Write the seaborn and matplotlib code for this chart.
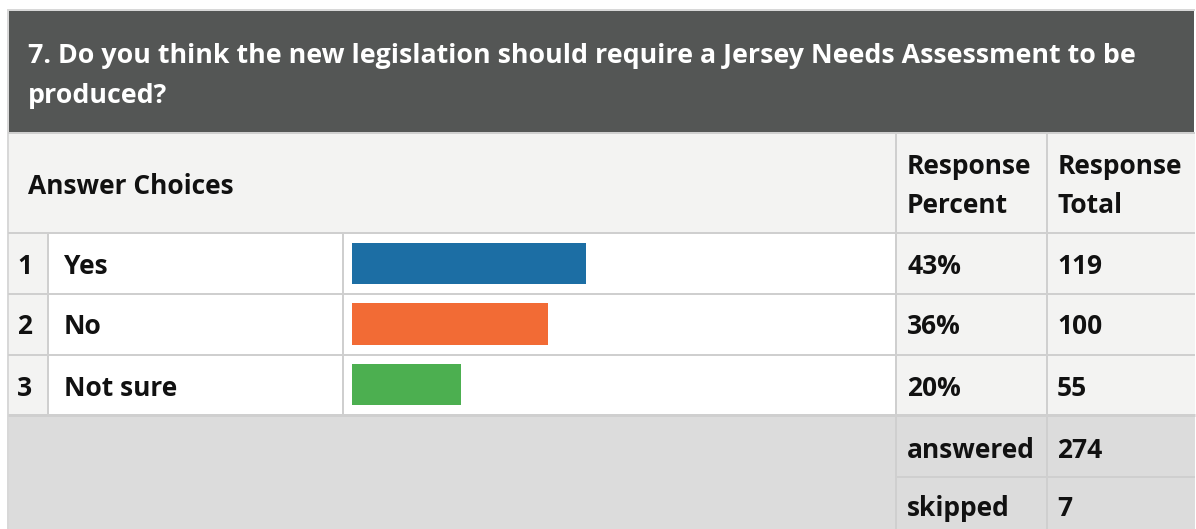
import matplotlib
matplotlib.use("Agg")
import matplotlib.pyplot as plt
from matplotlib.patches import Rectangle
import seaborn as sns
import pandas as pd

sns.set_theme(style="white")
plt.rcParams['font.family'] = ['Open Sans', 'DejaVu Sans']

# ---- data ----
title = "7. Do you think the new legislation should require a Jersey Needs Assessment to be\nproduced?"
numbers = ["1", "2", "3"]
choices = ["Yes", "No", "Not sure"]
percents = [43, 36, 20]
totals = [119, 100, 55]
colors = ["#1c6ea4", "#f26b35", "#4caf50"]
answered = 274
skipped = 7

W, H = 1196, 529
fig = plt.figure(figsize=(W / 100, H / 100), dpi=100)
bg = fig.add_axes([0, 0, 1, 1])
bg.set_xlim(0, W)
bg.set_ylim(H, 0)
bg.axis("off")

LINE = "#cfcfcf"
LW = 2 * 72 / 100

def rect(x0, y0, x1, y1, c):
    bg.add_patch(Rectangle((x0, y0), x1 - x0, y1 - y0, facecolor=c, edgecolor="none", zorder=0))

def hline(y, x0, x1, lw=LW, c=LINE):
    bg.plot([x0, x1], [y, y], color=c, lw=lw, solid_capstyle="butt", zorder=2)

def vline(x, y0, y1, lw=LW, c=LINE):
    bg.plot([x, x], [y0, y1], color=c, lw=lw, solid_capstyle="butt", zorder=2)

L, R = 8, 1195
row_top = [233, 294, 355]
row_h = 60.7

# backgrounds
rect(L, 11, 1194, 132, "#545655")
rect(L, 133, R, 232, "#f3f3f2")
rect(L, 233, 48, 415, "#f3f3f2")
rect(48, 233, 896, 415, "#ffffff")
rect(896, 233, R, 415, "#f3f3f2")
rect(L, 415, R, H, "#dcdcdc")

# borders
hline(10, 7, R, c="#d8d8d8")
vline(7.5, 10, H, c="#d8d8d8")
hline(132.5, L, R)
for y in [232.5, 293.5, 354.5]:
    hline(y, L, R)
hline(415, L, R, lw=3 * 72 / 100)
hline(476.5, 896, R)
vline(48, 233, 415)
vline(343, 233, 415)
vline(896, 133, H)
vline(1047, 133, H)

# texts
TXT = "#111111"
fs_title = 19.3
fs = 19.0
FW = "bold"
bg.text(28, 76, title, color="white", fontsize=fs_title, fontweight=FW,
        va="center", ha="left", linespacing=1.72)
bg.text(28, 186, "Answer Choices", color=TXT, fontsize=fs, fontweight=FW, va="center")
bg.text(907, 186, "Response\nPercent", color=TXT, fontsize=fs, fontweight=FW, va="center", linespacing=1.55)
bg.text(1058, 186, "Response\nTotal", color=TXT, fontsize=fs, fontweight=FW, va="center", linespacing=1.55)

for i in range(3):
    yc = row_top[i] + 33
    bg.text(17, yc, numbers[i], color=TXT, fontsize=fs, fontweight=FW, va="center")
    bg.text(64, yc, choices[i], color=TXT, fontsize=fs, fontweight=FW, va="center")
    bg.text(907, yc, f"{percents[i]}%", color=TXT, fontsize=fs, fontweight=FW, va="center")
    bg.text(1057, yc, f"{totals[i]}", color=TXT, fontsize=fs, fontweight=FW, va="center")

bg.text(907, 450, "answered", color=TXT, fontsize=fs, fontweight=FW, va="center")
bg.text(1057, 450, f"{answered}", color=TXT, fontsize=fs, fontweight=FW, va="center")
bg.text(907, 509, "skipped", color=TXT, fontsize=fs, fontweight=FW, va="center")
bg.text(1057, 509, f"{skipped}", color=TXT, fontsize=fs, fontweight=FW, va="center")

# bars via seaborn
x0, x1 = 352, 897
y0, y1 = 233, 233 + 3 * row_h
ax = fig.add_axes([x0 / W, 1 - y1 / H, (x1 - x0) / W, (y1 - y0) / H])
df = pd.DataFrame({"choice": choices, "percent": percents})
sns.barplot(data=df, x="percent", y="choice", hue="choice", palette=colors,
            order=choices, hue_order=choices, width=0.68, legend=False, ax=ax,
            saturation=1, edgecolor="none")
ax.set_xlim(0, 100)
ax.set_ylim(2.5, -0.5)
ax.axis("off")
ax.patch.set_alpha(0)

fig.savefig("out.png", dpi=100)
